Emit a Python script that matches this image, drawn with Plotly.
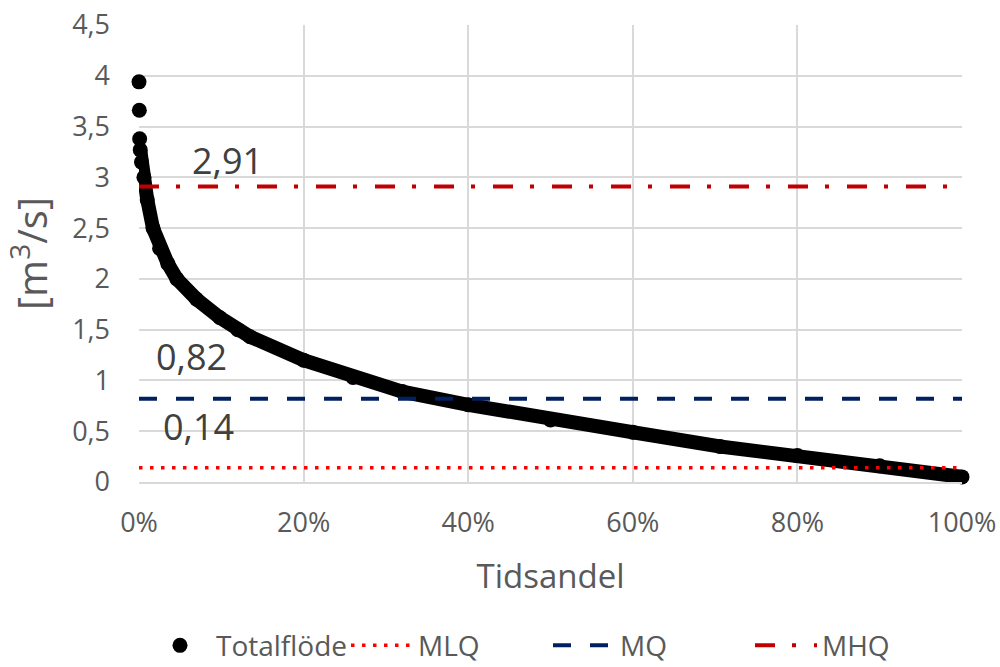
import plotly.graph_objects as go

# Duration curve values (share of time, flow m3/s)
tid_share = [0.0, 0.0004, 0.0008, 0.0015, 0.003, 0.006, 0.010, 0.017, 0.025, 0.035,
             0.046, 0.07, 0.098, 0.12, 0.135, 0.20, 0.26, 0.32, 0.40, 0.50,
             0.60, 0.706, 0.80, 0.90, 1.0]
totalflode = [3.94, 3.66, 3.38, 3.27, 3.15, 3.0, 2.78, 2.5, 2.3, 2.15,
              2.0, 1.8, 1.62, 1.5, 1.43, 1.2, 1.03, 0.89, 0.76, 0.61,
              0.49, 0.35, 0.26, 0.16, 0.05]

line_names = ["MLQ", "MQ", "MHQ"]
line_values = [0.14, 0.82, 2.91]
line_x = [0.0, 1.0]

x_tickvals = [0, 0.2, 0.4, 0.6, 0.8, 1.0]
y_tickvals = [0, 0.5, 1, 1.5, 2, 2.5, 3, 3.5, 4, 4.5]

FONT = "Open Sans"
TXT = "#595959"

fig = go.Figure()

# thick band of overlapping markers (drawn as wide line from where it becomes continuous)
fig.add_trace(go.Scatter(x=tid_share[3:], y=totalflode[3:], mode="lines",
                         line=dict(color="black", width=14), cliponaxis=False,
                         showlegend=False, hoverinfo="skip"))
fig.add_trace(go.Scatter(x=tid_share, y=totalflode, mode="markers", name="Totalflöde",
                         marker=dict(color="black", size=15), cliponaxis=False))

styles = {
    "MLQ": dict(color="#FF0000", width=3.5, dash="3.5px,7.5px"),
    "MQ": dict(color="#002060", width=4, dash="18px,19px"),
    "MHQ": dict(color="#C00000", width=4, dash="20px,17px,4px,18px"),
}
for name, val in zip(line_names, line_values):
    fig.add_trace(go.Scatter(x=line_x, y=[val, val], mode="lines", name=name,
                             line=styles[name]))

label_pos = {"MHQ": (0.108, 3.17), "MQ": (0.064, 1.235), "MLQ": (0.072, 0.546)}
for name, val in zip(line_names, line_values):
    ax, ay = label_pos[name]
    fig.add_annotation(x=ax, y=ay, text=f"{val:.2f}".replace(".", ","), showarrow=False,
                       font=dict(family=FONT, size=36, color="#404040"))

fig.update_layout(
    width=1000, height=667,
    margin=dict(l=139, r=38, t=25, b=185),
    paper_bgcolor="white", plot_bgcolor="white",
    separators=", ",
    font=dict(family=FONT, color=TXT, size=27),
    legend=dict(orientation="h", x=0.548, xanchor="center", xref="container",
                y=0.032, yanchor="middle", yref="container",
                font=dict(size=28, color=TXT), entrywidth=125, itemwidth=62),
    xaxis=dict(range=[0, 1], tickvals=x_tickvals, tickformat=".0%", automargin=False,
               showgrid=True, gridcolor="#D9D9D9", gridwidth=1.5,
               showline=True, linecolor="#D9D9D9", linewidth=1.5, zeroline=False,
               ticks="", tickfont=dict(size=27, color=TXT), ticklabelstandoff=16,
               title=dict(text="Tidsandel", font=dict(size=33, color=TXT), standoff=26)),
    yaxis=dict(range=[0, 4.5], tickvals=y_tickvals, automargin=False,
               showgrid=True, gridcolor="#D9D9D9", gridwidth=1.5,
               showline=False, zeroline=False, ticks="",
               tickfont=dict(size=27, color=TXT), ticklabelstandoff=28,
               title=dict(text="[m<sup>3</sup>/s]", font=dict(size=40, color=TXT), standoff=14)),
)

fig.write_html("out.html", config={"displayModeBar": False},
               post_script="document.body.style.margin='0';")
